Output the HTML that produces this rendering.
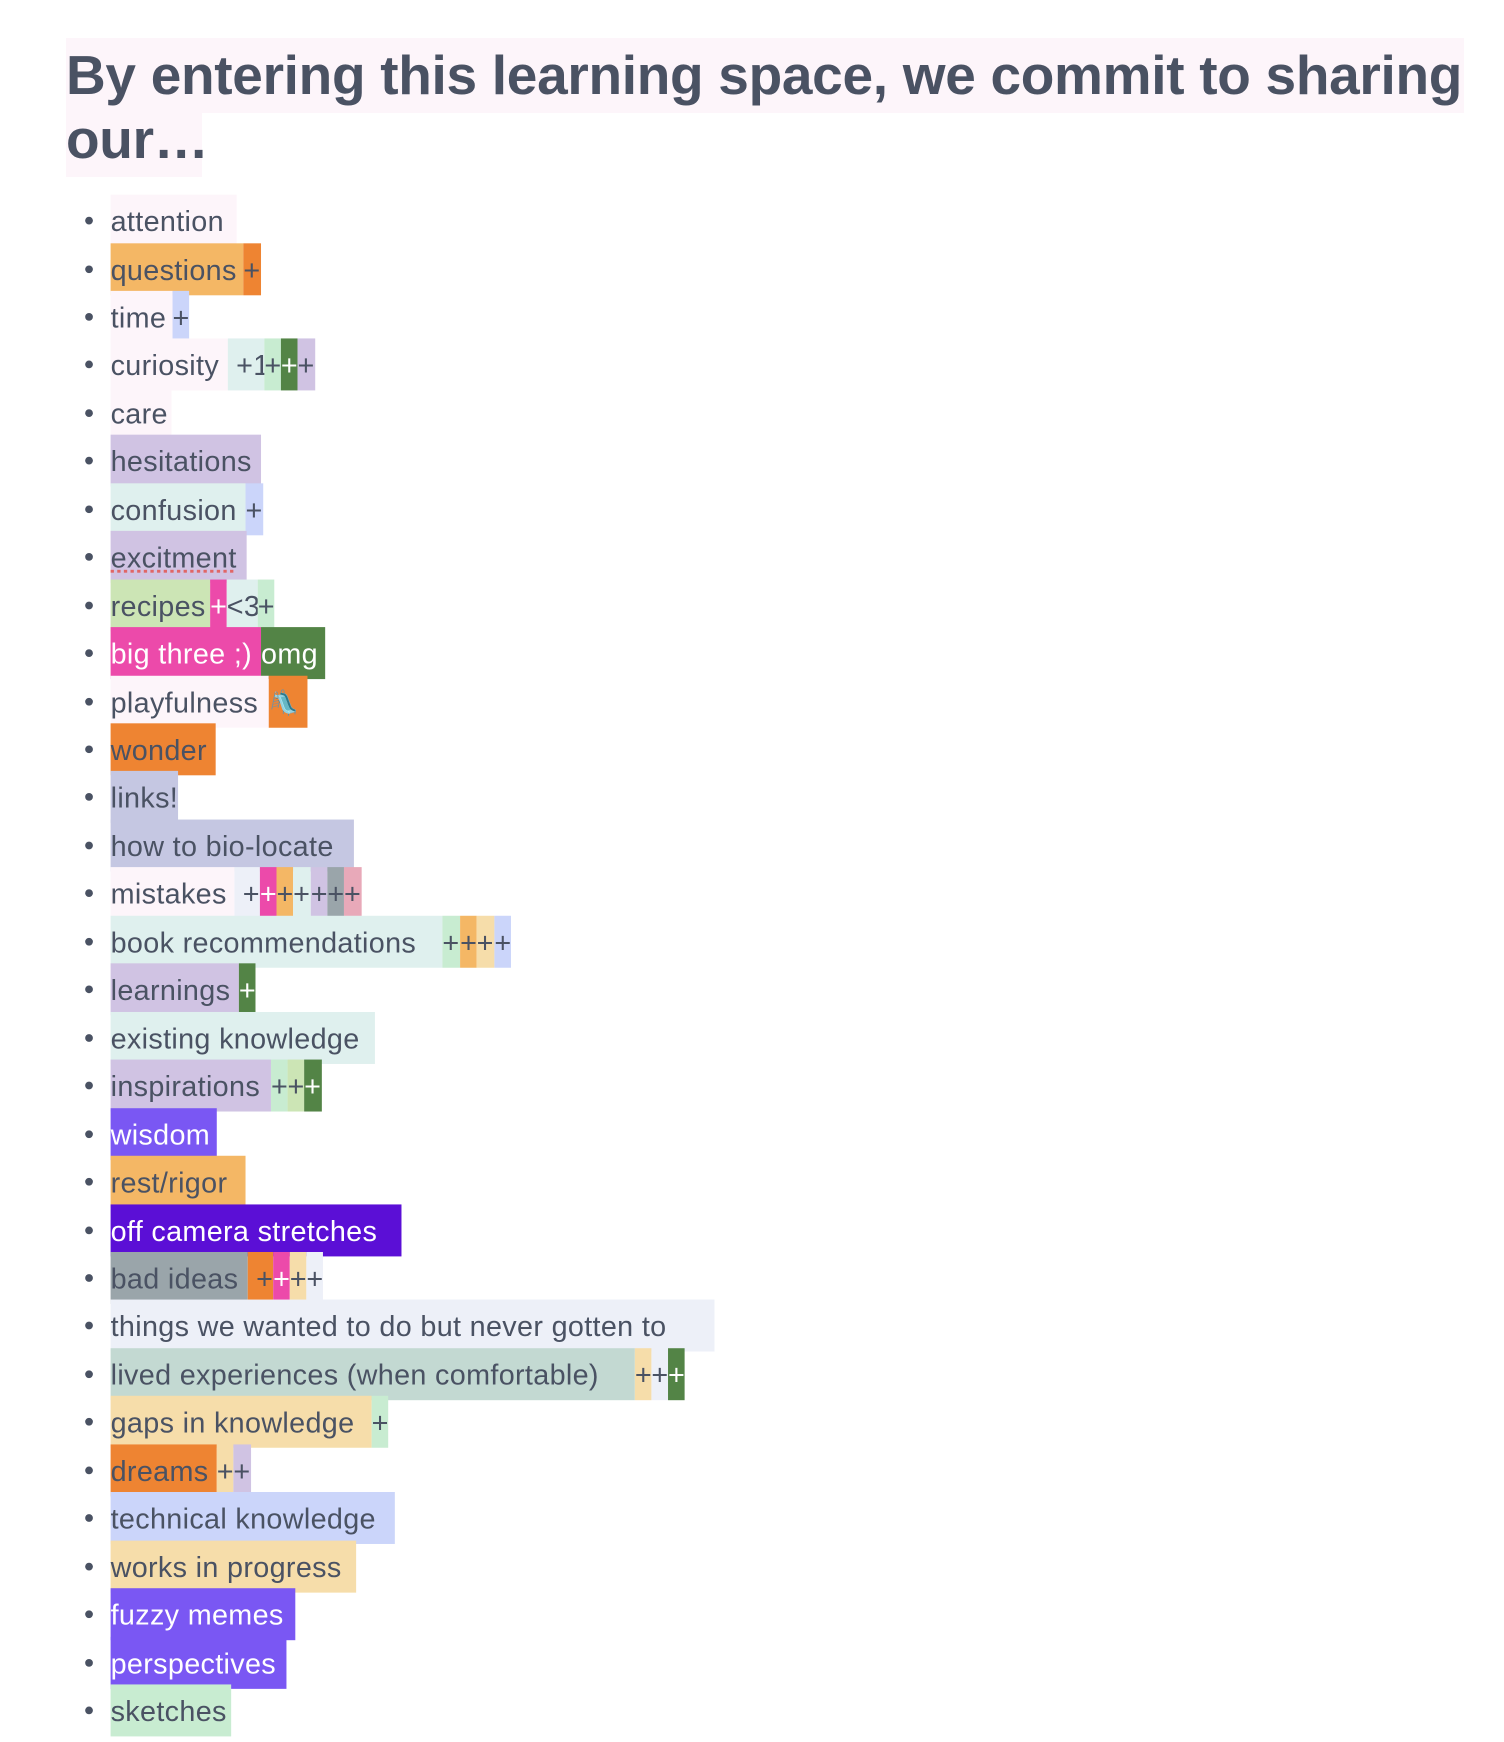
<!DOCTYPE html>
<html><head><meta charset="utf-8"><style>
html,body{margin:0;padding:0;background:#fff;width:1504px;height:1742px;overflow:hidden;}
body{font-family:"Liberation Sans",sans-serif;color:#4a5263;position:relative;}
.h{position:absolute;left:66px;background:#fdf5fa;font-weight:bold;font-size:55px;white-space:nowrap;letter-spacing:-0.3px;}
#L{position:absolute;left:0;top:0;transform:scale(1.106);transform-origin:0 0;width:1360px;height:1575px;}
.r{position:absolute;left:100px;height:47px;white-space:nowrap;font-size:26px;letter-spacing:0.3px;}
.r:before{content:"";position:absolute;left:-23px;top:20px;width:7px;height:7px;border-radius:50%;background:#4a5263;}
.r span{display:inline-block;height:47px;line-height:49px;vertical-align:top;overflow:visible;white-space:nowrap;}
.P{background:#fdf5fa}.O{background:#f4b765}.D{background:#ee8432}.B{background:#cbd5fa}.T{background:#dff0ee}
.G{background:#c8ecd1}.K{background:#538446;color:#fff}.V{background:#d0c3e3}.M{background:#ec4aaa;color:#fff}
.C{background:#c5c7e2}.U{background:#7a57f3;color:#fff}.Z{background:#5b0fd6;color:#fff}.Y{background:#9aa5aa}
.E{background:#edf0f8}.S{background:#c3d9d2}.Q{background:#f6ddaa}.R{background:#e8a9b9}.L{background:#cce5b5}
</style></head><body>
<div class="h" style="top:38px;width:1398px;height:75px;line-height:74px;">By entering this learning space, we commit to sharing</div>
<div class="h" style="top:113px;width:136px;height:64px;line-height:52px;">our…</div>
<div id="L">
<div class="r" style="top:176px"><span class="P" style="width:114px">attention</span></div>
<div class="r" style="top:219.5px"><span class="O" style="width:120px">questions</span><span class="D" style="width:16px">+</span></div>
<div class="r" style="top:262.9px"><span class="P" style="width:56px">time</span><span class="B" style="width:15px">+</span></div>
<div class="r" style="top:306.4px"><span class="P" style="width:106px">curiosity</span><span class="T" style="width:33px">&nbsp;+1</span><span class="G" style="width:15px">+</span><span class="K" style="width:15px">+</span><span class="V" style="width:16px">+</span></div>
<div class="r" style="top:349.8px"><span class="P" style="width:55px">care</span></div>
<div class="r" style="top:393.3px"><span class="V" style="width:136px">hesitations</span></div>
<div class="r" style="top:436.7px"><span class="T" style="width:122px">confusion</span><span class="B" style="width:16px">+</span></div>
<div class="r" style="top:480.2px"><span class="V" style="width:123px;text-decoration:underline dotted #e06666;">excitment</span></div>
<div class="r" style="top:523.6px"><span class="L" style="width:90px">recipes</span><span class="M" style="width:15px">+</span><span class="T" style="width:28px">&lt;3</span><span class="G" style="width:15px">+</span></div>
<div class="r" style="top:567.1px"><span class="M" style="width:136px">big three ;)</span><span class="K" style="width:58px">omg</span></div>
<div class="r" style="top:610.5px"><span class="P" style="width:143px">playfulness</span><span class="D" style="width:35px;font-size:22px">🛝</span></div>
<div class="r" style="top:654px"><span class="D" style="width:95px">wonder</span></div>
<div class="r" style="top:697.4px"><span class="C" style="width:61px">links!</span></div>
<div class="r" style="top:740.9px"><span class="C" style="width:220px">how to bio-locate</span></div>
<div class="r" style="top:784.3px"><span class="P" style="width:112px">mistakes</span><span class="E" style="width:23px">&nbsp;+</span><span class="M" style="width:15px">+</span><span class="O" style="width:15px">+</span><span class="T" style="width:16px">+</span><span class="V" style="width:15px">+</span><span class="Y" style="width:15px">+</span><span class="R" style="width:16px">+</span></div>
<div class="r" style="top:827.8px"><span class="T" style="width:300px">book recommendations</span><span class="G" style="width:16px">+</span><span class="O" style="width:15px">+</span><span class="Q" style="width:16px">+</span><span class="B" style="width:15px">+</span></div>
<div class="r" style="top:871.2px"><span class="V" style="width:116px">learnings</span><span class="K" style="width:15px">+</span></div>
<div class="r" style="top:914.7px"><span class="T" style="width:239px">existing knowledge</span></div>
<div class="r" style="top:958.1px"><span class="V" style="width:145px">inspirations</span><span class="G" style="width:15px">+</span><span class="L" style="width:15px">+</span><span class="K" style="width:16px">+</span></div>
<div class="r" style="top:1001.6px"><span class="U" style="width:96px">wisdom</span></div>
<div class="r" style="top:1045px"><span class="O" style="width:122px">rest/rigor</span></div>
<div class="r" style="top:1088.5px"><span class="Z" style="width:263px">off camera stretches</span></div>
<div class="r" style="top:1131.9px"><span class="Y" style="width:124px">bad ideas</span><span class="D" style="width:23px">&nbsp;+</span><span class="M" style="width:15px">+</span><span class="Q" style="width:15px">+</span><span class="E" style="width:15px">+</span></div>
<div class="r" style="top:1175.4px"><span class="E" style="width:546px">things we wanted to do but never gotten to</span></div>
<div class="r" style="top:1218.8px"><span class="S" style="width:474px">lived experiences (when comfortable)</span><span class="Q" style="width:15px">+</span><span class="E" style="width:15px">+</span><span class="K" style="width:15px">+</span></div>
<div class="r" style="top:1262.3px"><span class="Q" style="width:236px">gaps in knowledge</span><span class="G" style="width:15px">+</span></div>
<div class="r" style="top:1305.7px"><span class="D" style="width:96px">dreams</span><span class="Q" style="width:15px">+</span><span class="V" style="width:16px">+</span></div>
<div class="r" style="top:1349.2px"><span class="B" style="width:257px">technical knowledge</span></div>
<div class="r" style="top:1392.6px"><span class="Q" style="width:222px">works in progress</span></div>
<div class="r" style="top:1436.1px"><span class="U" style="width:167px">fuzzy memes</span></div>
<div class="r" style="top:1479.5px"><span class="U" style="width:159px">perspectives</span></div>
<div class="r" style="top:1523px"><span class="G" style="width:109px">sketches</span></div>
</div>
</body></html>
